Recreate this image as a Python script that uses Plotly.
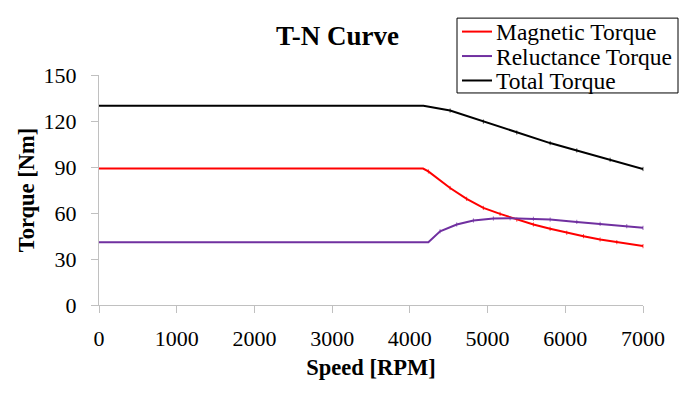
import plotly.graph_objects as go

speed_mag = [0, 4170, 4238, 4518, 4731, 4946, 5161, 5376, 5590, 5805, 6019, 6234, 6448, 6663, 7000]
torque_mag = [89, 89, 87.1, 76.3, 69.2, 63.3, 59.4, 55.7, 52.5, 49.7, 47.1, 44.9, 42.7, 41.0, 38.4]

speed_rel = [0, 4230, 4238, 4389, 4603, 4818, 5075, 5290, 5590, 5805, 6148, 6448, 6791, 7000]
torque_rel = [41, 41, 41, 48.1, 52.5, 55.1, 56.4, 56.6, 56.2, 55.7, 54.2, 52.9, 51.4, 50.3]

speed_tot = [0, 4175, 4518, 4946, 5376, 5805, 6148, 6577, 7000]
torque_tot = [130, 130, 126.8, 119.6, 112.5, 105.6, 100.8, 94.7, 88.7]

x_ticks = [0, 1000, 2000, 3000, 4000, 5000, 6000, 7000]
y_ticks = [0, 30, 60, 90, 120, 150]

series_names = ["Magnetic Torque", "Reluctance Torque", "Total Torque"]
series_colors = ["#ff0000", "#7030a0", "#000000"]

FONT = "Liberation Serif, Times New Roman, serif"

W, H = 697, 395
L, R, T, B = 99, 643, 75, 305.5

def px_x(p):
    return (p - L) / (R - L)

def px_y(p):
    return (B - p) / (B - T)

def msizes(xs, brk):
    return [0 if x <= brk else 3 for x in xs]

fig = go.Figure()
data = [(speed_mag, torque_mag, 4170), (speed_rel, torque_rel, 4238), (speed_tot, torque_tot, 4175)]
for name, col, (xs, ys, brk) in zip(series_names, series_colors, data):
    fig.add_trace(go.Scatter(
        x=xs, y=ys, name=name, mode="lines+markers", showlegend=False,
        line=dict(color=col, width=2),
        marker=dict(symbol="line-ns", size=msizes(xs, brk), line=dict(color=col, width=1)),
        cliponaxis=False,
    ))

# legend box (drawn manually to match the compact row spacing)
shapes = [dict(type="rect", xref="paper", yref="paper",
               x0=px_x(457), x1=px_x(678), y0=px_y(18), y1=px_y(93),
               line=dict(color="black", width=1), fillcolor="white", layer="above")]
annotations = []
row_y = [31.5, 56, 80.5]
for name, col, ry in zip(series_names, series_colors, row_y):
    shapes.append(dict(type="line", xref="paper", yref="paper",
                       x0=px_x(462), x1=px_x(492), y0=px_y(ry), y1=px_y(ry),
                       line=dict(color=col, width=2), layer="above"))
    annotations.append(dict(text=name, xref="paper", yref="paper", x=px_x(494), y=px_y(ry + 0.5),
                            xanchor="left", yanchor="middle", showarrow=False,
                            font=dict(size=23.5, family=FONT, color="black")))

axis_col = "#c0c0c0"
fig.update_layout(
    width=W, height=H,
    margin=dict(l=L, r=W - R, t=T, b=H - B, autoexpand=False),
    paper_bgcolor="white", plot_bgcolor="white",
    font=dict(family=FONT, size=22, color="black"),
    title=dict(text="<b>T-N Curve</b>", x=337.5 / W, xanchor="center", xref="container",
               y=1 - 36 / H, yanchor="middle", yref="container", font=dict(size=27, family=FONT)),
    showlegend=False,
    shapes=shapes,
    annotations=annotations,
    xaxis=dict(range=[0, 7000], tickvals=x_ticks, ticktext=[str(v) for v in x_ticks],
               showgrid=False, zeroline=False, showline=True, linecolor=axis_col, linewidth=1,
               ticks="outside", ticklen=7, tickcolor=axis_col, automargin=False,
               ticklabelstandoff=7,
               title=dict(text="<b>Speed [RPM]</b>", font=dict(size=22.5, family=FONT), standoff=8),
               tickfont=dict(size=22, family=FONT)),
    yaxis=dict(range=[0, 150], tickvals=y_ticks, ticktext=[str(v) for v in y_ticks],
               showgrid=False, zeroline=False, showline=True, linecolor=axis_col, linewidth=1,
               ticks="outside", ticklen=7, tickcolor=axis_col, automargin=False,
               ticklabelstandoff=10,
               title=dict(text="<b>Torque [Nm]</b>", font=dict(size=22.5, family=FONT), standoff=2),
               tickfont=dict(size=22, family=FONT)),
)
fig.write_html("out.html", post_script="document.body.style.margin='0';",
               config={"displayModeBar": False})
